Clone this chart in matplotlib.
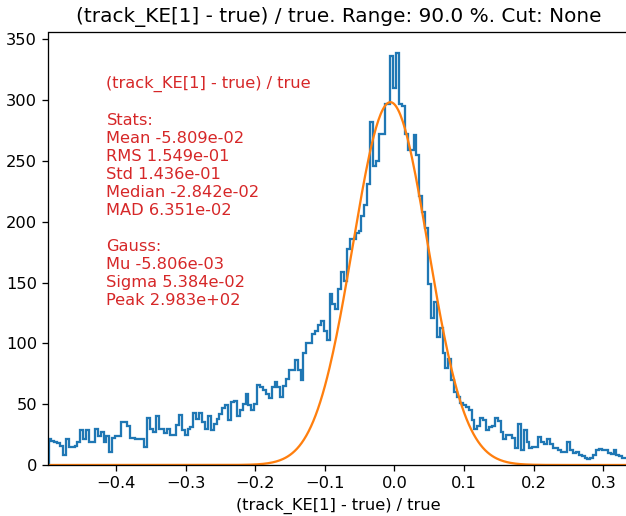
import numpy as np
import matplotlib
matplotlib.use("Agg")
import matplotlib.pyplot as plt

# histogram counts (200 bins)
counts = [
    21, 20, 19, 18, 16, 8, 21, 15, 15, 16, 19, 29, 21, 29, 19, 19, 30, 24, 27, 19,
    24, 11, 22, 24, 24, 35, 35, 32, 22, 22, 21, 21, 21, 15, 39,
    30, 27, 40, 30, 30, 26, 30, 25, 25, 33, 41, 29, 25, 30, 31, 43, 38, 43, 35, 30,
    40, 29, 34, 38, 42, 47, 49, 37, 52, 53, 40, 45, 50, 58, 49, 45, 50, 66,
    64, 62, 58, 55, 64, 68, 64, 56, 65, 71, 78, 78, 86, 78, 70, 92, 100, 100, 108, 110,
    115, 118, 110, 103, 141, 132, 128, 145, 159, 151, 178, 186, 186, 191, 192,
    205, 214, 231, 282, 246, 250, 272, 272, 297, 297, 336, 310, 339, 297, 295, 272,
    259, 259, 271, 255, 221, 208, 195,
    149, 121, 134, 105, 113, 92, 80, 87, 70, 60, 56, 51, 49, 48, 45, 37, 30, 32, 39,
    37, 29, 31,
    32, 39, 36, 27, 21, 25, 25, 22, 14, 34, 12, 29, 19, 14, 15, 15, 23, 19, 17, 21,
    17, 14, 14, 12, 11, 11, 19, 12, 10, 11, 8, 7, 6, 5, 6, 8, 12, 13, 12, 12,
    10, 9, 12, 8, 7, 6, 6,
]
x_lo, x_hi = -0.4968, 0.3355

# gauss fit parameters
mu = -5.806e-03
sigma = 5.384e-02
peak = 2.983e+02

label = "(track_KE[1] - true) / true"
stats_text = (label + "\n\n"
              "Stats:\n"
              "Mean -5.809e-02\n"
              "RMS 1.549e-01\n"
              "Std 1.436e-01\n"
              "Median -2.842e-02\n"
              "MAD 6.351e-02\n\n"
              "Gauss:\n"
              "Mu -5.806e-03\n"
              "Sigma 5.384e-02\n"
              "Peak 2.983e+02")

edges = np.linspace(x_lo, x_hi, len(counts) + 1)
xs = np.linspace(x_lo, x_hi, 500)
gauss = peak * np.exp(-0.5 * ((xs - mu) / sigma) ** 2)

dpi = 117
fig = plt.figure(figsize=(626 / dpi, 516 / dpi), dpi=dpi)
ax = fig.add_axes([48.5 / 626, 51 / 516, 579.5 / 626, 433 / 516])
ax.stairs(counts, edges, color="tab:blue", linewidth=1.4)
ax.plot(xs, gauss, color="tab:orange", linewidth=1.4)
ax.set_xlim(x_lo, x_hi)
ax.set_ylim(0, 356)
ax.set_xlabel(label)
ax.set_title(label + ". Range: 90.0 %. Cut: None", fontsize=12.3)
ax.text(0.1, 0.9, stats_text, transform=ax.transAxes, va="top", ha="left",
        color="tab:red", fontsize=10, linespacing=1.25)

fig.savefig("out.png", dpi=dpi)
